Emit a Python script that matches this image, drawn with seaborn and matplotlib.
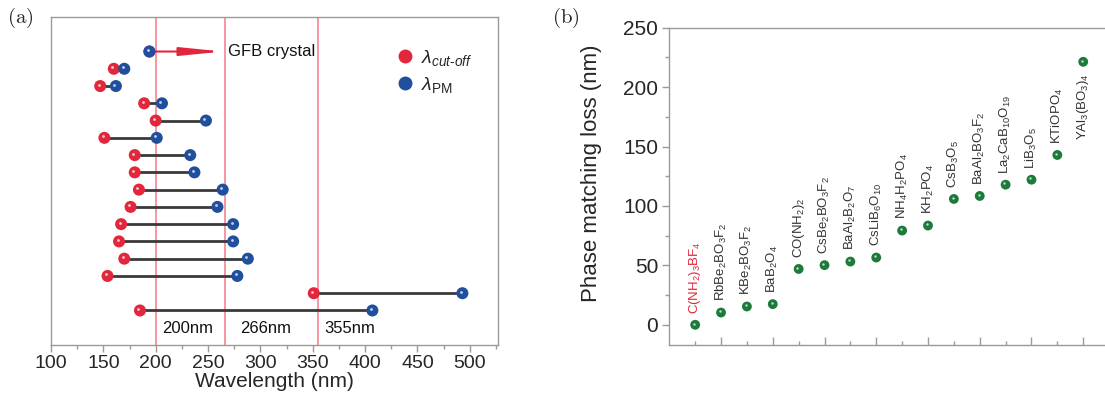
import numpy as np
import pandas as pd
import matplotlib
matplotlib.use('Agg')
import matplotlib.pyplot as plt
import seaborn as sns
from matplotlib.transforms import offset_copy
from matplotlib.lines import Line2D
from matplotlib.ticker import MultipleLocator, FixedLocator

# ---------------- data: panel (a) ----------------
row_index = list(range(15, -1, -1))
cutoff_nm = [194, 160, 147, 189, 200, 151, 180, 180, 184, 176, 167, 165, 170, 154, 351, 185]
pm_nm     = [194, 170, 162, 206, 248, 201, 233, 237, 264, 259, 274, 274, 288, 278, 493, 407]
ref_lines = [200, 266, 355]
ref_labels = ["200nm", "266nm", "355nm"]
ref_label_x = [206, 281, 361]
a_xticks = [100, 150, 200, 250, 300, 350, 400, 450, 500]

# ---------------- data: panel (b) ----------------
crystals = [r"C(NH$_2$)$_3$BF$_4$", r"RbBe$_2$BO$_3$F$_2$", r"KBe$_2$BO$_3$F$_2$", r"BaB$_2$O$_4$",
            r"CO(NH$_2$)$_2$", r"CsBe$_2$BO$_3$F$_2$", r"BaAl$_2$B$_2$O$_7$", r"CsLiB$_6$O$_{10}$",
            r"NH$_4$H$_2$PO$_4$", r"KH$_2$PO$_4$", r"CsB$_3$O$_5$", r"BaAl$_2$BO$_3$F$_2$",
            r"La$_2$CaB$_{10}$O$_{19}$", r"LiB$_3$O$_5$", r"KTiOPO$_4$", r"YAl$_3$(BO$_3$)$_4$"]
loss_nm = [0, 10.3, 15.4, 17.4, 47, 50.2, 53.2, 56.6, 79.3, 83.5, 105.9, 108.4, 117.9, 122.1, 142.9, 221.3]
crystal_pos = list(range(1, 17))
b_yticks = [0, 50, 100, 150, 200, 250]

RED = '#e2263c'
BLUE = '#1f4f9d'
GREEN = '#1c7a3b'
SPINE = '#9a9a9a'

sns.set_theme(style='white')
plt.rcParams['font.family'] = ['Liberation Sans', 'DejaVu Sans']
plt.rcParams['mathtext.fontset'] = 'custom'
plt.rcParams['mathtext.rm'] = 'Liberation Sans'
plt.rcParams['mathtext.it'] = 'Liberation Sans:italic'
plt.rcParams['mathtext.sf'] = 'Liberation Sans'
plt.rcParams['mathtext.bf'] = 'Liberation Sans:bold'

fig = plt.figure(figsize=(11.05, 4.05), dpi=100)
ax1 = fig.add_axes([51/1105, 60/405, 447/1105, 328/405])
ax2 = fig.add_axes([669.3/1105, 60/405, (1105-669.3)/1105, (345-27.7)/405])

# ---------------- panel (a) ----------------
df_a = pd.DataFrame({'row': row_index, 'cutoff': cutoff_nm, 'pm': pm_nm})
for v in ref_lines:
    ax1.axvline(v, color='#f47b88', lw=1.1, zorder=1)
ax1.hlines(df_a['row'], df_a['cutoff'], df_a['pm'], color='#3a3a3a', lw=2.0, zorder=2)

# arrow for the GFB crystal
ax1.annotate('', xy=(264, row_index[0]), xytext=(pm_nm[0], row_index[0]),
             arrowprops=dict(arrowstyle='-|>,head_length=2.5,head_width=0.25', color=RED,
                             lw=1.5, shrinkA=0, shrinkB=0, mutation_scale=10), zorder=2)
ax1.text(269, row_index[0], 'GFB crystal', fontsize=12, va='center', ha='left', color='#111')

sns.scatterplot(data=df_a, x='cutoff', y='row', color=RED, s=75, edgecolor='none',
                ax=ax1, zorder=3, legend=False)
sns.scatterplot(data=df_a, x='pm', y='row', color=BLUE, s=75, edgecolor='none',
                ax=ax1, zorder=4, legend=False)
hl = offset_copy(ax1.transData, fig=fig, x=-1.5, y=1.5, units='dots')
ax1.scatter(df_a['cutoff'][1:], df_a['row'][1:], s=4, color='white', alpha=0.75, transform=hl, zorder=5, lw=0)
ax1.scatter(df_a['pm'], df_a['row'], s=4, color='white', alpha=0.75, transform=hl, zorder=5, lw=0)

for xl, lab in zip(ref_label_x, ref_labels):
    ax1.text(xl, -1.07, lab, fontsize=12, ha='left', va='center', color='#111')

handles = [Line2D([], [], marker='o', ls='none', color=RED, markersize=9),
           Line2D([], [], marker='o', ls='none', color=BLUE, markersize=9)]
ax1.legend(handles, [r'$\lambda_{cut‐off}$', r'$\lambda_{\mathrm{PM}}$'], loc='upper left',
           bbox_to_anchor=(0.745, 0.93), frameon=False, fontsize=14, handletextpad=0.1,
           labelspacing=0.35, handlelength=1.4, borderaxespad=0)

ax1.set_xlim(100, 527)
ax1.set_ylim(-2, 17)
ax1.set_yticks([])
ax1.set_xticks(a_xticks)
ax1.xaxis.set_minor_locator(MultipleLocator(25))
ax1.tick_params(axis='x', which='major', direction='out', length=5, width=1, color=SPINE,
                labelsize=14, pad=2, bottom=True)
ax1.tick_params(axis='x', which='minor', direction='out', length=3, width=1, color=SPINE, bottom=True)
ax1.set_xlabel('Wavelength (nm)', fontsize=15, labelpad=0)
ax1.set_ylabel('')
for s in ax1.spines.values():
    s.set_color(SPINE)
    s.set_linewidth(1.0)

# ---------------- panel (b) ----------------
df_b = pd.DataFrame({'pos': crystal_pos, 'loss': loss_nm, 'name': crystals})
sns.scatterplot(data=df_b, x='pos', y='loss', color=GREEN, s=50, edgecolor='none',
                ax=ax2, zorder=3, legend=False)
hl2 = offset_copy(ax2.transData, fig=fig, x=-1.2, y=1.2, units='dots')
ax2.scatter(df_b['pos'], df_b['loss'], s=3, color='white', alpha=0.75, transform=hl2, zorder=4, lw=0)

for i, (p, l, n) in enumerate(zip(crystal_pos, loss_nm, crystals)):
    col = RED if i == 0 else '#333333'
    if i == len(crystals) - 1:
        ax2.annotate(n, (p, l), xytext=(0, -8), textcoords='offset points', rotation=90,
                     ha='center', va='top', fontsize=9.5, color=col)
    else:
        ax2.annotate(n, (p, l), xytext=(0, 8), textcoords='offset points', rotation=90,
                     ha='center', va='bottom', fontsize=9.5, color=col)

ax2.set_xlim(0, (1105 - 669.3) / 25.87)
ax2.set_ylim(-17, 250)
ax2.set_yticks(b_yticks)
ax2.yaxis.set_minor_locator(MultipleLocator(25))
ax2.xaxis.set_major_locator(FixedLocator([2, 4, 6, 8, 10, 12, 14, 16]))
ax2.xaxis.set_minor_locator(FixedLocator([1, 3, 5, 7, 9, 11, 13, 15]))
ax2.tick_params(axis='x', which='major', direction='in', length=6, width=1, color=SPINE,
                labelbottom=False, bottom=True)
ax2.tick_params(axis='x', which='minor', direction='in', length=3, width=1, color=SPINE, bottom=True)
ax2.tick_params(axis='y', which='major', direction='out', length=5, width=1, color=SPINE,
                labelsize=15, pad=3, left=True)
ax2.tick_params(axis='y', which='minor', direction='out', length=3, width=1, color=SPINE, left=True)
ax2.set_xlabel('')
ax2.set_ylabel('Phase matching loss (nm)', fontsize=16)
ax2.yaxis.set_label_coords(-0.155, 0.54)
ax2.spines['right'].set_visible(False)
for k in ['left', 'top', 'bottom']:
    ax2.spines[k].set_color(SPINE)
    ax2.spines[k].set_linewidth(1.0)

fig.text(0.006, 0.955, r'$\mathrm{(a)}$', fontsize=15, math_fontfamily='cm', ha='left', va='center')
fig.text(0.5, 0.955, r'$\mathrm{(b)}$', fontsize=15, math_fontfamily='cm', ha='left', va='center')

fig.savefig('out.png', dpi=100)
